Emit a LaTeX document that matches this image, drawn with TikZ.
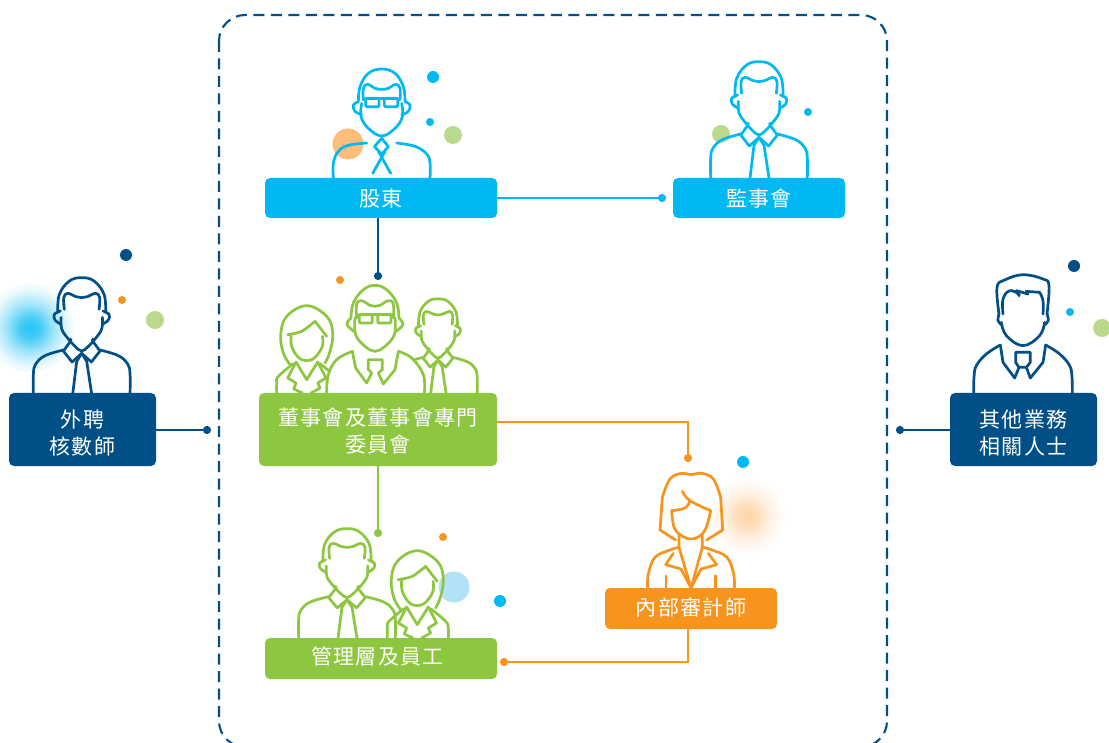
\documentclass[tikz,border=0pt]{standalone}
\usepackage{fontspec}
\newfontfamily\cjk[LetterSpace=6]{Noto Sans CJK TC}
\usetikzlibrary{arrows.meta}
\definecolor{ccyan}{HTML}{00B9F2}
\definecolor{cnavy}{HTML}{004F86}
\definecolor{cgreen}{HTML}{8DC63F}
\definecolor{corange}{HTML}{F7941D}
\definecolor{clgreen}{HTML}{BAD98C}
\definecolor{clorange}{HTML}{FDBE7C}
\definecolor{clblue}{HTML}{B3E2F8}
\pgfdeclareradialshading{glowcyan}{\pgfpointorigin}{color(0bp)=(ccyan!85!white);color(6bp)=(ccyan!72!white);color(14bp)=(ccyan!35!white);color(22bp)=(ccyan!8!white);color(28bp)=(white);color(50bp)=(white)}
\pgfdeclareradialshading{gloworange}{\pgfpointorigin}{color(0bp)=(clorange!65!white);color(6bp)=(clorange!55!white);color(14bp)=(clorange!25!white);color(22bp)=(clorange!6!white);color(28bp)=(white);color(50bp)=(white)}
\newcommand{\crv}[1]{\draw plot[smooth,tension=.65] coordinates {#1};}
\newcommand{\tl}[2]{\raisebox{#1}[15pt][6pt]{#2}}
\tikzset{
  x=1pt,y=-1pt,
  box/.style={rectangle,rounded corners=5pt,text=white,inner sep=0pt,align=center,
    font=\cjk\fontsize{21}{27}\selectfont},
  conn/.style={line width=2pt,-{Circle[length=8pt,width=8pt]}},
  icon/.style={line width=2.7pt,line join=round,line cap=round},
  unit/.style={x=.3333pt,y=-.3333pt},
  spot/.style={circle,inner sep=0pt,minimum size=#1},
  pics/suitman/.style={code={\begin{scope}[unit,icon]
    \crv{(-72,-244)(-67,-299)(-37,-339)(0,-349)(37,-339)(67,-299)(72,-244)}
    \crv{(-52,-254)(-54,-289)(-42,-302)(-17,-292)(0,-289)(17,-292)(42,-302)(54,-289)(52,-254)}
    \crv{(-64,-249)(-82,-239)(-80,-222)(-62,-209)}
    \crv{(64,-249)(82,-239)(80,-222)(62,-209)}
    \crv{(-62,-230)(-60,-195)(-40,-165)(-20,-143)(0,-129)(20,-143)(40,-165)(60,-195)(62,-230)}
    \draw (-34,-165)--(-32,-160)--(-55,-129)--(-29,-96)--(0,-122)--(29,-96)--(55,-129)--(32,-160)--(34,-165);
    \draw (0,-122)--(-15,-98)--(-27,0);
    \draw (0,-122)--(15,-98)--(30,0);
    \crv{(-55,-132)(-110,-115)(-138,-90)(-145,-60)(-145,0)}
    \crv{(55,-132)(110,-115)(138,-90)(145,-60)(145,0)}
  \end{scope}}},
  pics/glassman/.style={code={\begin{scope}[unit,icon]
    \crv{(-70,-229)(-65,-274)(-40,-314)(0,-327)(40,-314)(65,-274)(70,-229)}
    \crv{(-55,-234)(-55,-269)(-42,-281)(-20,-269)(0,-266)(20,-269)(42,-281)(55,-269)(55,-234)}
    \crv{(-70,-229)(-85,-219)(-80,-200)(-60,-190)}
    \crv{(70,-229)(85,-219)(80,-200)(60,-190)}
    \crv{(-60,-224)(-62,-184)(-40,-149)(0,-126)(40,-149)(62,-184)(60,-224)}
    \draw[rounded corners=1pt] (-48,-239) rectangle (-8,-214);
    \draw[rounded corners=1pt] (8,-239) rectangle (48,-214);
    \draw (-48,-239)--(48,-239);
    \draw (0,-119)--(20,-94)--(0,-72)--(-22,-94)--cycle;
    \draw (-10,-80)--(27,-14);
    \draw (10,-80)--(-27,-14);
    \crv{(-145,0)(-145,-45)(-130,-80)(-100,-98)(-45,-105)}
    \crv{(145,0)(145,-45)(135,-72)(100,-95)(45,-105)}
  \end{scope}}},
  pics/boardman/.style={code={\begin{scope}[unit,icon]
    \fill[white] plot[smooth,tension=.65] coordinates {(-145,0)(-140,-55)(-115,-100)(-68,-125)(70,-125)(110,-105)(145,-55)(148,0)}--cycle;
    \crv{(-72,-225)(-65,-270)(-35,-310)(0,-323)(35,-310)(65,-270)(72,-225)}
    \crv{(-55,-225)(-55,-267)(-40,-277)(-15,-263)(0,-260)(15,-263)(40,-277)(55,-267)(55,-225)}
    \crv{(-72,-225)(-84,-205)(-60,-183)}
    \crv{(72,-225)(84,-205)(60,-183)}
    \crv{(-60,-225)(-58,-175)(-30,-140)(0,-125)(30,-140)(58,-175)(60,-225)}
    \draw[rounded corners=1pt] (-47,-235) rectangle (-8,-210);
    \draw[rounded corners=1pt] (8,-235) rectangle (48,-210);
    \draw (-47,-235)--(48,-235);
    \crv{(-145,0)(-140,-55)(-115,-100)(-68,-125)}
    \crv{(70,-125)(110,-105)(145,-55)(148,0)}
    \draw (-68,-125)--(-58,-75)--(-25,-30)--(-10,-60)--(-20,-70)--(-20,-100)--(22,-100)--(22,-70)--(10,-60)--(25,-27)--(60,-70)--(70,-125);
  \end{scope}}},
  pics/spikeman/.style={code={\begin{scope}[unit,icon]
    \crv{(-72,-240)(-78,-320)(-55,-342)(0,-358)(60,-345)(78,-325)(72,-240)}
    \crv{(-60,-240)(-60,-285)(-40,-310)(-12,-300)}
    \draw (-12,-300)--(-12,-295)--(-20,-310)--(15,-300)--(10,-308)--(50,-305);
    \crv{(50,-305)(60,-280)(60,-240)}
    \crv{(-72,-240)(-75,-220)(-65,-208)}
    \crv{(72,-240)(76,-220)(65,-208)}
    \crv{(-65,-215)(-50,-175)(0,-145)(50,-175)(65,-215)}
    \draw (-68,-147)--(-60,-95)--(-25,-48)--(-12,-80);
    \draw (-22,-125)--(22,-125)--(22,-95)--(10,-80)--(-12,-80)--(-22,-95)--cycle;
    \draw (10,-80)--(22,-48)--(60,-95)--(68,-147);
    \crv{(-68,-147)(-110,-120)(-140,-85)(-147,-50)(-148,0)}
    \crv{(68,-147)(110,-120)(140,-85)(147,-50)(148,0)}
  \end{scope}}},
  pics/longhair/.style={code={\begin{scope}[unit,icon]
    \crv{(-50,-85)(-70,-120)(-78,-175)(-60,-230)(0,-262)(60,-230)(78,-180)(70,-125)(55,-90)}
    \draw plot[smooth,tension=.5] coordinates {(-57,-175)(-15,-185)(25,-215)};
    \draw (25,-215)--(60,-170);
    \crv{(-47,-175)(-45,-140)(-25,-107)(0,-97)(25,-107)(47,-140)(47,-170)}
    \draw (-32,-93)--(0,-40)--(33,-93);
    \draw (-32,-93)--(-57,-45)--(-32,-30)--(-39,-12)--(-13,0);
    \draw (33,-93)--(58,-45)--(33,-30)--(40,-15)--(13,0);
    \crv{(-40,-88)(-85,-50)(-90,-30)(-90,0)}
    \crv{(40,-88)(85,-50)(93,-30)(93,0)}
  \end{scope}}},
  pics/auditwoman/.style={code={\begin{scope}[unit,icon]
    \draw (-46,-144)--(-93,-174)--(-86,-272);
    \crv{(-86,-272)(-63,-327)(-28,-344)(0,-340)(32,-344)(67,-327)(89,-272)}
    \draw (89,-272)--(95,-174)--(47,-144);
    \crv{(-26,-290)(-3,-262)(59,-232)}
    \crv{(-3,-262)(-18,-240)(-58,-232)}
    \crv{(-58,-232)(-50,-180)(-25,-155)(0,-147)(25,-155)(45,-180)(59,-232)}
    \draw (-36,-162)--(-36,-122)--(0,0)--(34,-122)--(34,-162);
    \draw (-53,-104)--(-76,-70)--(-30,-57)--(0,0)--(30,-57)--(77,-70)--(52,-104);
    \crv{(-36,-122)(-63,-114)(-108,-92)(-128,-42)(-130,0)}
    \crv{(36,-122)(63,-114)(108,-92)(128,-42)(130,0)}
    \draw (-75,-37)--(-75,0);
    \draw (74,-37)--(74,0);
  \end{scope}}}
}
\begin{document}
\begin{tikzpicture}
\clip (0,0) rectangle (1109,743);
\useasboundingbox (0,0) rectangle (1109,743);
\fill[white] (0,0) rectangle (1109,743);
% glows
\shade[shading=glowcyan] (30,328) circle (44);
\shade[shading=gloworange] (747,516) circle (38);
% frame
\draw[cnavy,line width=2.1pt,dash pattern=on 11pt off 6.5pt,rounded corners=26pt] (219,15) rectangle (887,747);
% spots
\node[spot=12pt,fill=ccyan] (s1) at (433,77) {};
\node[spot=8pt,fill=ccyan] (s2) at (430,122) {};
\node[spot=18pt,fill=clgreen] (s3) at (453,135) {};
\node[spot=31pt,fill=clorange] (s4) at (348,144) {};
\node[spot=8pt,fill=ccyan] (s5) at (808,112) {};
\node[spot=18pt,fill=clgreen] (s6) at (721,134) {};
\node[spot=12pt,fill=cnavy] (s7) at (126,255) {};
\node[spot=8pt,fill=corange] (s8) at (122,300) {};
\node[spot=18pt,fill=clgreen] (s9) at (155,320) {};
\node[spot=12pt,fill=cnavy] (s10) at (1074,266) {};
\node[spot=8pt,fill=ccyan] (s11) at (1070,312) {};
\node[spot=18pt,fill=clgreen] (s12) at (1102,328) {};
\node[spot=8pt,fill=corange] (s13) at (340,280) {};
\node[spot=8pt,fill=corange] (s14) at (443,537) {};
\node[spot=31pt,fill=clblue] (s15) at (454,587) {};
\node[spot=12pt,fill=ccyan] (s16) at (500,601) {};
\node[spot=12pt,fill=ccyan] (s17) at (743,462) {};
% people
\pic[color=ccyan] at (381.7,178) {glassman};
\pic[color=ccyan] at (759,178) {suitman};
\pic[color=cnavy] at (81.7,394) {suitman};
\pic[color=cnavy] at (1023,394) {spikeman};
\pic[color=cgreen] at (306.7,393) {longhair};
\pic[color=cgreen,scale=.81] at (438,393) {suitman};
\pic[color=cgreen] at (375,393) {boardman};
\pic[color=cgreen,yscale=.94] at (347,638) {suitman};
\pic[color=cgreen] at (417.3,638) {longhair};
\pic[color=corange] at (691,588) {auditwoman};
% boxes
\node[box,fill=ccyan,minimum width=232pt,minimum height=40pt] (gudong) at (381,198) {\tl{-4pt}{股東}};
\node[box,fill=ccyan,minimum width=172pt,minimum height=40pt] (jianshi) at (759,198) {\tl{-4pt}{監事會}};
\node[box,fill=cnavy,minimum width=147pt,minimum height=73pt] (waipin) at (82.5,429.5) {\tl{-7pt}{外聘}\\\tl{-7pt}{核數師}};
\node[box,fill=cnavy,minimum width=147pt,minimum height=73pt] (qita) at (1023.5,429.5) {\tl{-7pt}{其他業務}\\\tl{-7pt}{相關人士}};
\node[box,fill=cgreen,minimum width=238pt,minimum height=73pt] (board) at (378,429.5) {\tl{-5pt}{董事會及董事會專門}\\\tl{-5pt}{委員會}};
\node[box,fill=cgreen,minimum width=232pt,minimum height=41pt] (mgmt) at (381,658.5) {\hspace*{-7pt}\tl{-1.5pt}{管理層及員工}};
\node[box,fill=corange,minimum width=172pt,minimum height=41pt] (audit) at (691,608.5) {\tl{-2pt}{內部審計師}};
% connector ends
\coordinate (e1) at (666,198);
\coordinate (e2) at (378,280);
\coordinate (e3) at (378,537);
\coordinate (t4) at (688,422);
\coordinate (e4) at (688,462);
\coordinate (t5) at (688,662);
\coordinate (e5) at (500,662);
\coordinate (e6) at (211,430);
\coordinate (e7) at (896,430);
% connectors
\draw[conn,ccyan] (gudong.east) -- (e1);
\draw[conn,cnavy] (e2 |- gudong.south) -- (e2);
\draw[conn,cgreen] (e3 |- board.south) -- (e3);
\draw[conn,corange] (board.east |- t4) -- (t4) -- (e4);
\draw[conn,corange] (t5 |- audit.south) -- (t5) -- (e5);
\draw[conn,cnavy] (waipin.east |- e6) -- (e6);
\draw[conn,cnavy] (qita.west |- e7) -- (e7);
\end{tikzpicture}
\end{document}
